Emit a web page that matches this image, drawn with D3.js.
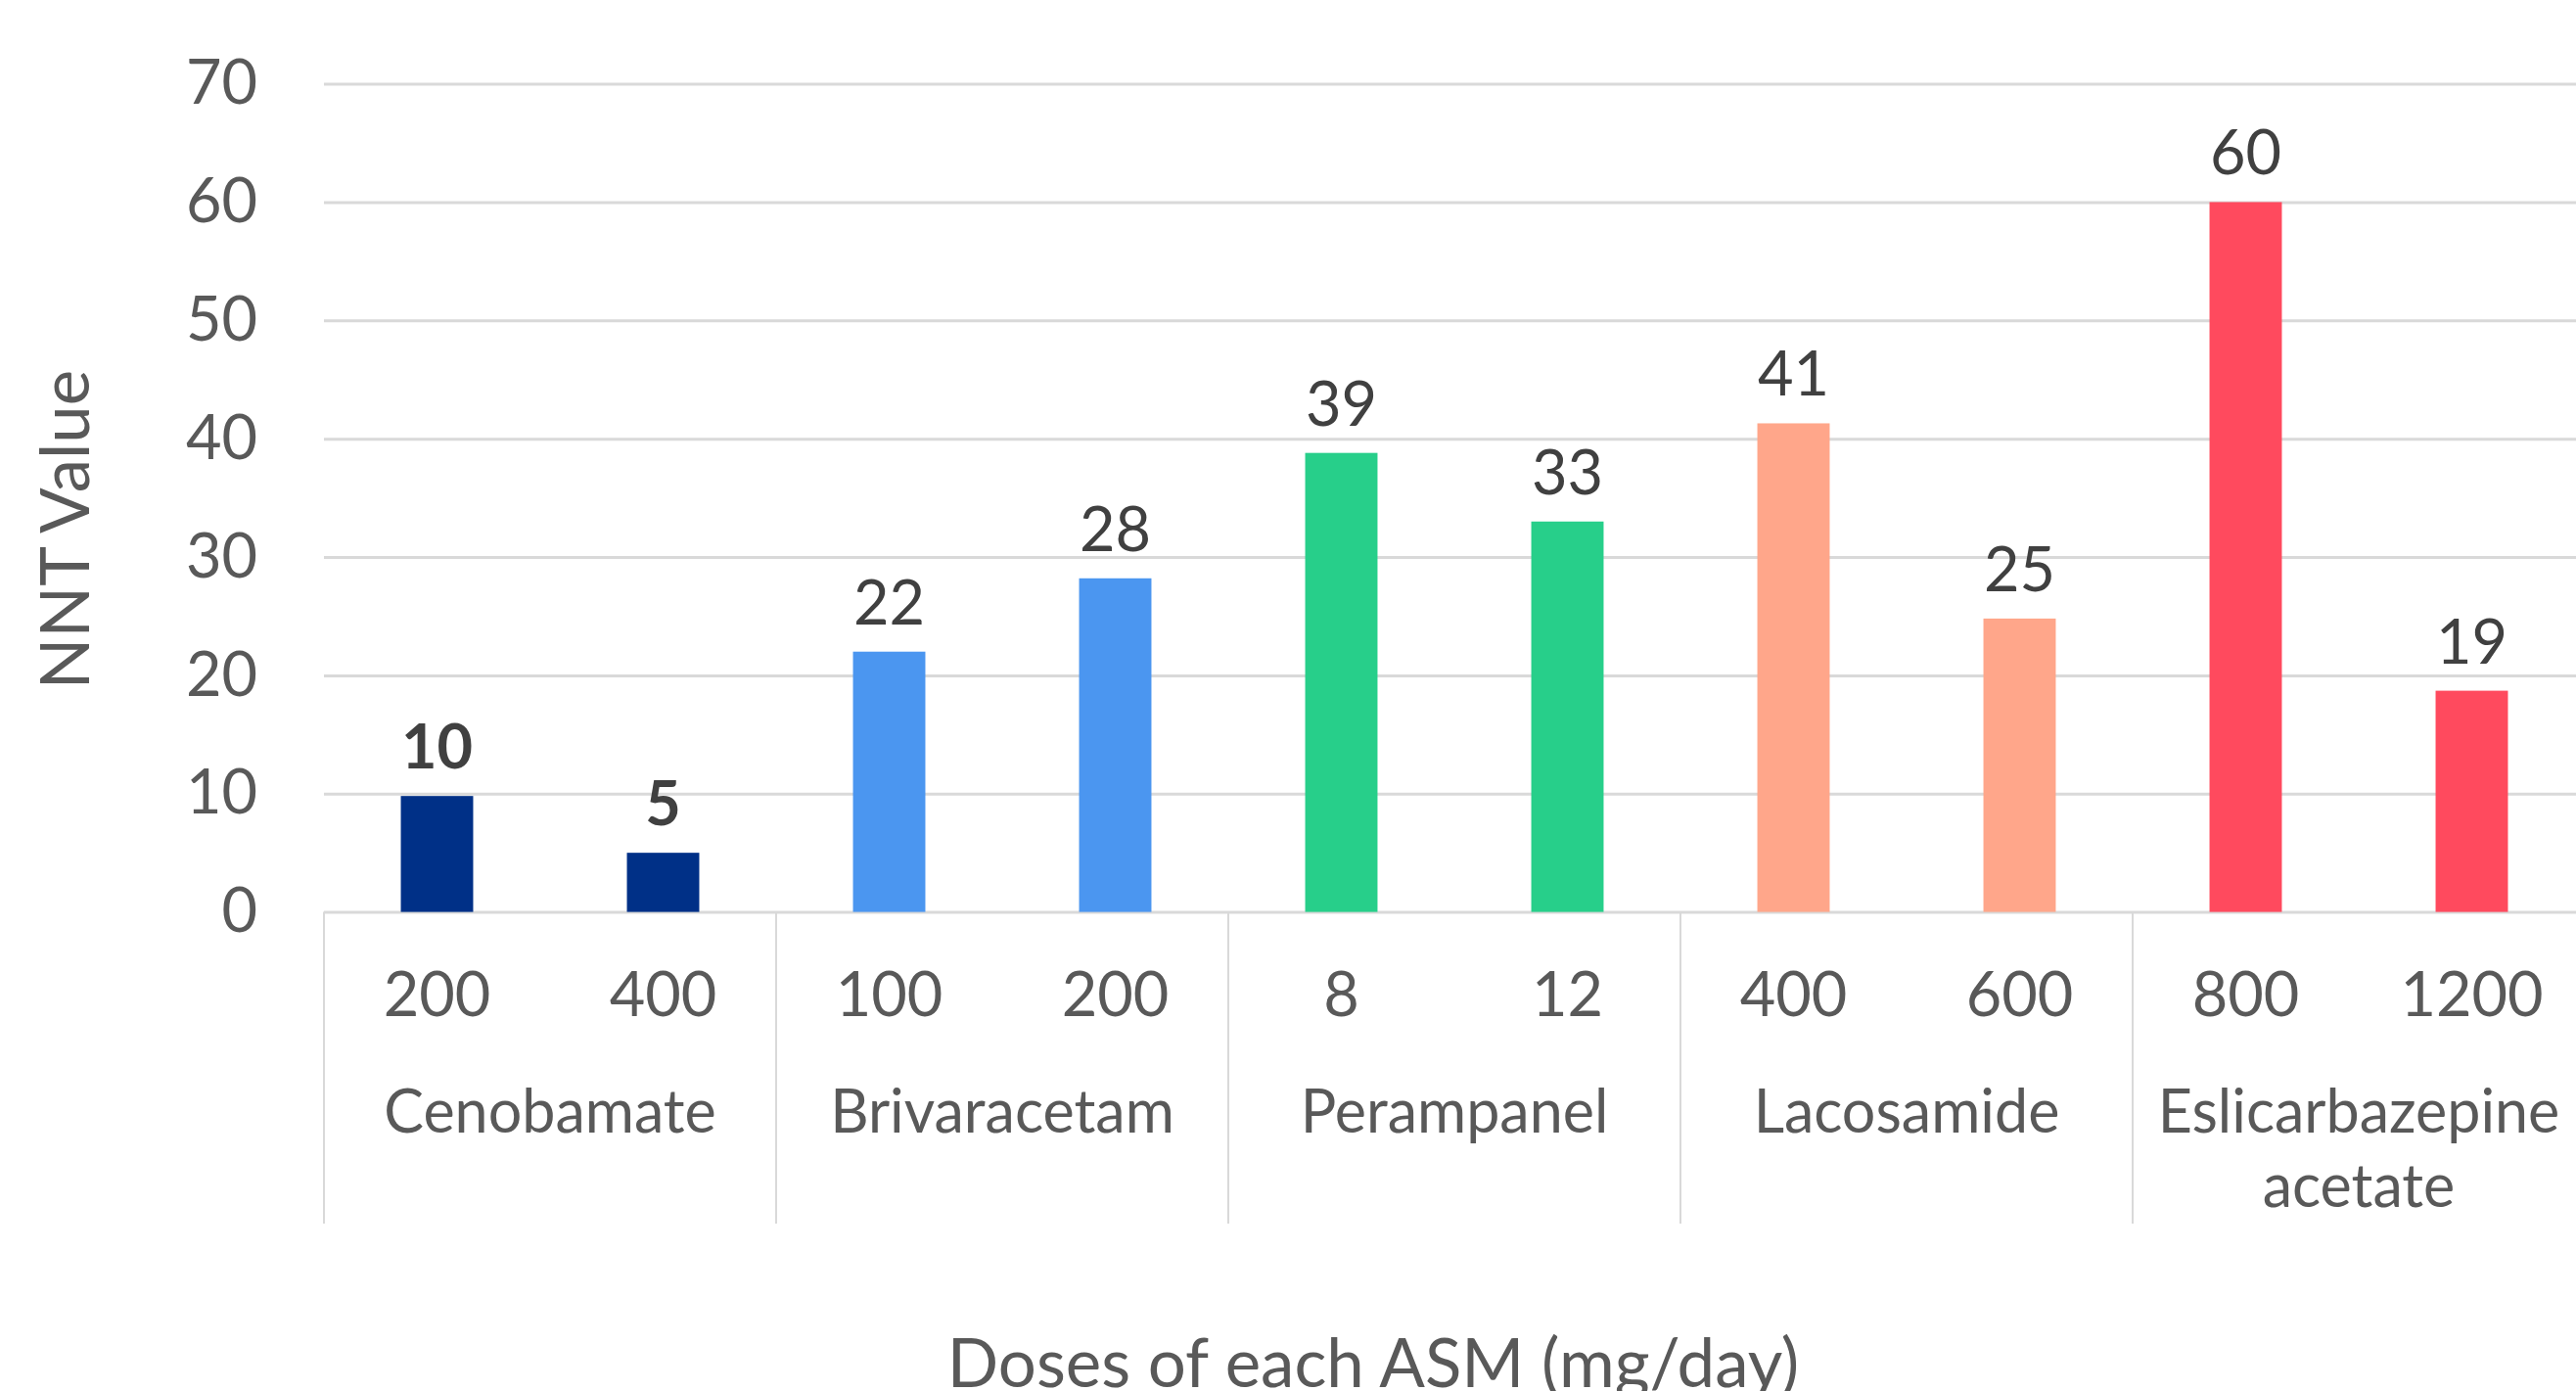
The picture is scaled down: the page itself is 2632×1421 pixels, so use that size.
<!DOCTYPE html>
<meta charset="utf-8">
<head>
  <title>NNT by dose</title>
</head>

<style>
body {
  margin: 0;
  background: #fff;
}
text {
  font-family: Lato, "Open Sans", sans-serif;
}
.grid line {
  stroke: #d9d9d9;
  stroke-width: 3;
}
.tick text {
  fill: #595959;
  font-size: 63px;
}
.sep {
  stroke: #d9d9d9;
  stroke-width: 2;
}
.lbl {
  fill: #404040;
  font-size: 63px;
  text-anchor: middle;
}
.cat {
  fill: #595959;
  font-size: 61px;
  text-anchor: middle;
}
.title {
  fill: #595959;
  font-size: 69px;
  text-anchor: middle;
}
</style>

<body>
  <svg width="2632" height="1421"></svg>

  <script src="https://cdnjs.cloudflare.com/ajax/libs/d3/7.8.5/d3.min.js"></script>
  <script>
var width = 2632, height = 1421

// data
var drugs = ['Cenobamate', 'Brivaracetam', 'Perampanel', 'Lacosamide', 'Eslicarbazepine acetate']
var drugLines = [['Cenobamate'], ['Brivaracetam'], ['Perampanel'], ['Lacosamide'], ['Eslicarbazepine', 'acetate']]
var drugColors = ['#003087', '#4b96f0', '#27cf8a', '#ffa68a', '#ff4a5e']
var barDrug = [0, 0, 1, 1, 2, 2, 3, 3, 4, 4]
var doses = ['200', '400', '100', '200', '8', '12', '400', '600', '800', '1200']
var nnt = [9.8, 5, 22, 28.2, 38.8, 33, 41.3, 24.8, 60, 18.7]
var nntLabels = ['10', '5', '22', '28', '39', '33', '41', '25', '60', '19']
var boldDrug = 'Cenobamate'
var yTicks = [0, 10, 20, 30, 40, 50, 60, 70]

var x0 = 331, x1 = 2641, yTop = 85.6, yBase = 931.6

var svg = d3.select('svg')

var x = d3.scaleBand()
  .domain(d3.range(doses.length))
  .range([x0, x1])
  .paddingInner(0.68)
  .paddingOuter(0.34)

var xGroup = d3.scaleBand()
  .domain(drugs)
  .range([x0, x1])

var y = d3.scaleLinear()
  .domain([0, 70])
  .range([yBase, yTop])

// gridlines + y labels
svg.append('g')
  .attr('class', 'grid')
  .attr('transform', 'translate(' + x0 + ',0)')
  .call(d3.axisLeft(y).tickValues(yTicks).tickSize(-(x1 - x0)).tickPadding(68))
  .call(g => g.select('.domain').remove())

// group separators
var seps = drugs.map(d => xGroup(d)).concat([x1])
svg.selectAll('.sep')
  .data(seps)
  .enter()
  .append('line')
  .attr('class', 'sep')
  .attr('x1', d => d)
  .attr('x2', d => d)
  .attr('y1', yBase)
  .attr('y2', 1250)

// bars
svg.append('g')
  .selectAll('rect')
  .data(nnt)
  .enter()
  .append('rect')
  .attr('x', (d, i) => x(i))
  .attr('width', x.bandwidth())
  .attr('y', d => y(d))
  .attr('height', d => y(0) - y(d))
  .attr('fill', (d, i) => drugColors[barDrug[i]])

// value labels
svg.append('g')
  .selectAll('text')
  .data(nnt)
  .enter()
  .append('text')
  .attr('class', 'lbl')
  .attr('x', (d, i) => x(i) + x.bandwidth() / 2)
  .attr('y', d => y(d) - 28)
  .style('font-weight', (d, i) => drugs[barDrug[i]] == boldDrug ? 'bold' : 'normal')
  .text((d, i) => nntLabels[i])

// dose labels
svg.append('g')
  .attr('transform', 'translate(0,' + yBase + ')')
  .call(d3.axisBottom(x).tickSize(0).tickFormat(i => doses[i]))
  .call(g => g.select('.domain').remove())
  .selectAll('text')
  .attr('y', 84)
  .attr('dy', '0.35em')

// drug labels
var cats = svg.append('g')
  .selectAll('text')
  .data(drugs)
  .enter()
  .append('text')
  .attr('class', 'cat')
  .attr('x', d => xGroup(d) + xGroup.bandwidth() / 2)
  .attr('y', 1136)

cats.selectAll('tspan')
  .data((d, i) => drugLines[i])
  .enter()
  .append('tspan')
  .attr('x', function() { return this.parentNode.getAttribute('x') })
  .attr('dy', (d, i) => i == 0 ? '0.35em' : 76)
  .text(d => d)

// axis titles
svg.append('text')
  .attr('class', 'title')
  .attr('transform', 'translate(67,' + 541 + ') rotate(-90)')
  .attr('dy', '0.35em')
  .text('NNT Value')

svg.append('text')
  .attr('class', 'title')
  .attr('x', 1403)
  .attr('y', 1393)
  .attr('dy', '0.35em')
  .text('Doses of each ASM (mg/day)')
  </script>
</body>
</html>
